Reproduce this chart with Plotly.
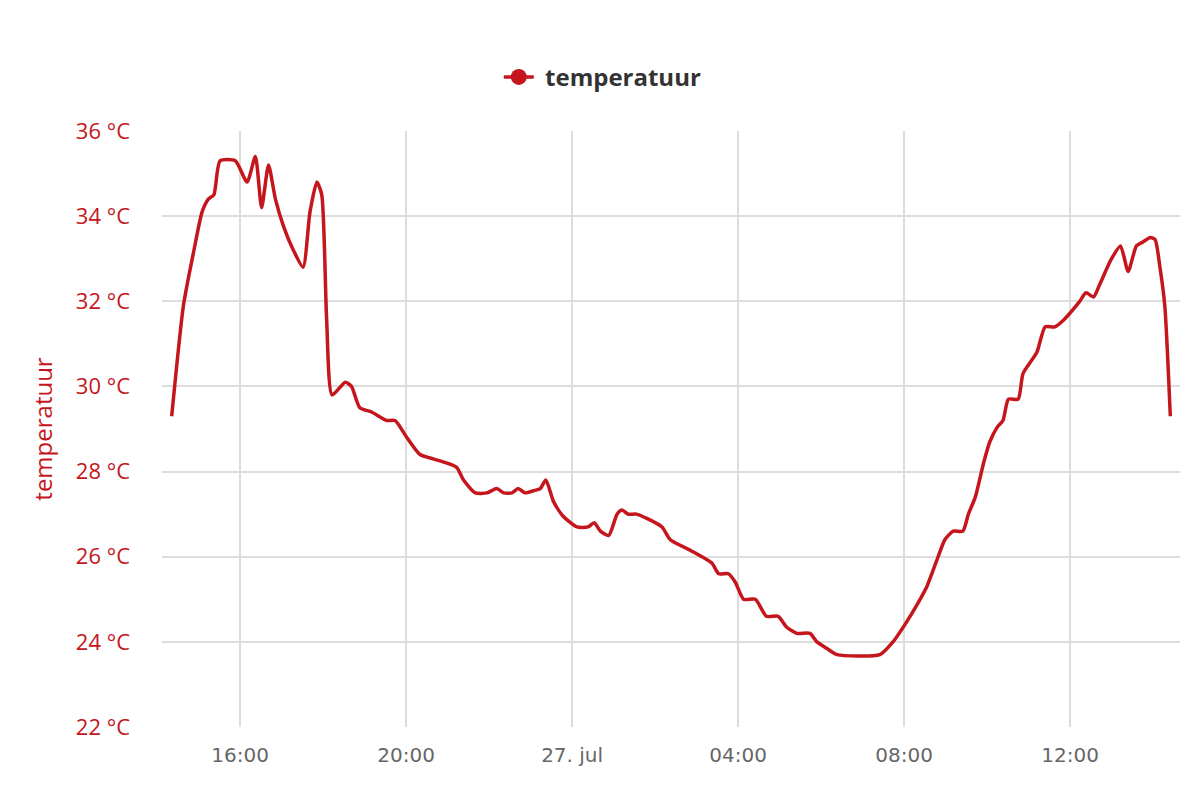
import plotly.graph_objects as go
import pandas as pd

tijden = [
    "2019-07-26 14:21", "2019-07-26 14:38", "2019-07-26 14:52", "2019-07-26 15:05",
    "2019-07-26 15:14", "2019-07-26 15:22", "2019-07-26 15:31", "2019-07-26 15:53",
    "2019-07-26 16:10", "2019-07-26 16:22", "2019-07-26 16:31", "2019-07-26 16:41",
    "2019-07-26 16:51", "2019-07-26 17:03", "2019-07-26 17:17", "2019-07-26 17:31",
    "2019-07-26 17:41", "2019-07-26 17:51", "2019-07-26 17:58", "2019-07-26 18:05",
    "2019-07-26 18:13", "2019-07-26 18:32", "2019-07-26 18:41", "2019-07-26 18:53",
    "2019-07-26 19:10", "2019-07-26 19:32", "2019-07-26 19:44", "2019-07-26 20:01",
    "2019-07-26 20:20", "2019-07-26 20:39", "2019-07-26 20:59", "2019-07-26 21:13",
    "2019-07-26 21:23", "2019-07-26 21:40", "2019-07-26 21:57", "2019-07-26 22:11",
    "2019-07-26 22:21", "2019-07-26 22:33", "2019-07-26 22:42", "2019-07-26 22:52",
    "2019-07-26 23:04", "2019-07-26 23:14", "2019-07-26 23:22", "2019-07-26 23:33",
    "2019-07-26 23:47", "2019-07-27 00:07", "2019-07-27 00:23", "2019-07-27 00:32",
    "2019-07-27 00:41", "2019-07-27 00:53", "2019-07-27 01:05", "2019-07-27 01:12",
    "2019-07-27 01:21", "2019-07-27 01:33", "2019-07-27 01:48", "2019-07-27 02:10",
    "2019-07-27 02:22", "2019-07-27 02:51", "2019-07-27 03:22", "2019-07-27 03:32",
    "2019-07-27 03:46", "2019-07-27 03:56", "2019-07-27 04:08", "2019-07-27 04:25",
    "2019-07-27 04:41", "2019-07-27 04:58", "2019-07-27 05:10", "2019-07-27 05:25",
    "2019-07-27 05:44", "2019-07-27 05:54", "2019-07-27 06:08", "2019-07-27 06:23",
    "2019-07-27 07:25", "2019-07-27 07:44", "2019-07-27 08:01", "2019-07-27 08:18",
    "2019-07-27 08:33", "2019-07-27 08:47", "2019-07-27 08:59", "2019-07-27 09:11",
    "2019-07-27 09:25", "2019-07-27 09:33", "2019-07-27 09:43", "2019-07-27 09:55",
    "2019-07-27 10:04", "2019-07-27 10:15", "2019-07-27 10:23", "2019-07-27 10:31",
    "2019-07-27 10:45", "2019-07-27 10:52", "2019-07-27 11:12", "2019-07-27 11:24",
    "2019-07-27 11:38", "2019-07-27 11:50", "2019-07-27 12:14", "2019-07-27 12:23",
    "2019-07-27 12:34", "2019-07-27 12:43", "2019-07-27 13:00", "2019-07-27 13:13",
    "2019-07-27 13:24", "2019-07-27 13:36", "2019-07-27 13:46", "2019-07-27 13:56",
    "2019-07-27 14:03", "2019-07-27 14:10", "2019-07-27 14:17", "2019-07-27 14:25",
]
temperatuur = [
    29.3, 31.9, 33.1, 34.1, 34.4, 34.5, 35.3, 35.3,
    34.8, 35.4, 34.2, 35.2, 34.4, 33.75, 33.2, 32.8,
    34.1, 34.8, 34.5, 31.6, 29.8, 30.1, 30.0, 29.5,
    29.4, 29.2, 29.2, 28.8, 28.4, 28.3, 28.2, 28.1,
    27.8, 27.5, 27.5, 27.6, 27.5, 27.5, 27.6, 27.5,
    27.55, 27.6, 27.8, 27.3, 26.95, 26.7, 26.7, 26.8,
    26.6, 26.5, 27.0, 27.1, 27.0, 27.0, 26.9, 26.7,
    26.4, 26.15, 25.85, 25.6, 25.6, 25.4, 25.0, 25.0,
    24.6, 24.6, 24.35, 24.2, 24.2, 24.0, 23.85, 23.7,
    23.7, 24.0, 24.4, 24.85, 25.3, 25.9, 26.4, 26.6,
    26.6, 27.0, 27.4, 28.2, 28.7, 29.05, 29.2, 29.7,
    29.7, 30.3, 30.8, 31.4, 31.4, 31.55, 32.0, 32.2,
    32.1, 32.4, 33.0, 33.3, 32.7, 33.3, 33.4, 33.5,
    33.45, 32.8, 31.9, 29.3,
]

tick_tijden = ["2019-07-26 16:00", "2019-07-26 20:00", "2019-07-27 00:00",
               "2019-07-27 04:00", "2019-07-27 08:00", "2019-07-27 12:00"]
tick_labels = ["16:00", "20:00", "27. jul", "04:00", "08:00", "12:00"]

rood = "#c4161c"
grijs = "#dddddd"

fig = go.Figure()
fig.add_trace(go.Scatter(
    x=pd.to_datetime(tijden), y=temperatuur, mode="lines",
    line=dict(color=rood, width=3.5, shape="spline", smoothing=0.6),
    name="temperatuur", showlegend=False,
))
# alleen voor de legenda (lijn met bolletje)
fig.add_trace(go.Scatter(
    x=[None], y=[None], mode="lines+markers", name=" temperatuur",
    line=dict(color=rood, width=3.5), marker=dict(color=rood, size=16),
))

# de pagina heeft 8px body-marge, daarom l/t/r/b daarop aangepast
fig.update_layout(
    width=1200, height=800,
    paper_bgcolor="white", plot_bgcolor="white",
    margin=dict(l=154, r=28, t=123, b=81),
    font=dict(family="Open Sans, DejaVu Sans, sans-serif", size=19, color="#666666"),
    legend=dict(orientation="h", x=0.433, xanchor="center",
                y=1.09, yanchor="middle", itemwidth=30,
                font=dict(family="Open Sans, sans-serif", size=24, color="#333333", weight="bold")),
)
fig.update_xaxes(
    range=[pd.Timestamp("2019-07-26 14:07"), pd.Timestamp("2019-07-27 14:39")],
    tickvals=pd.to_datetime(tick_tijden), ticktext=tick_labels, tickangle=0,
    showgrid=True, gridcolor=grijs, gridwidth=1.5,
    showline=False, zeroline=False, ticks="", ticklabelstandoff=14,
    tickfont=dict(family="DejaVu Sans, sans-serif", color="#666666", size=20),
)
fig.update_yaxes(
    range=[22, 36], dtick=2, ticksuffix=" °C",
    showgrid=True, gridcolor=grijs, gridwidth=1.5,
    zeroline=False, showline=False, ticks="", ticklabelstandoff=31,
    tickfont=dict(family="Open Sans, sans-serif", color=rood, size=22),
    title=dict(text="temperatuur", font=dict(family="Open Sans, sans-serif", color=rood, size=24),
               standoff=16),
)

fig.write_html("out.html")
